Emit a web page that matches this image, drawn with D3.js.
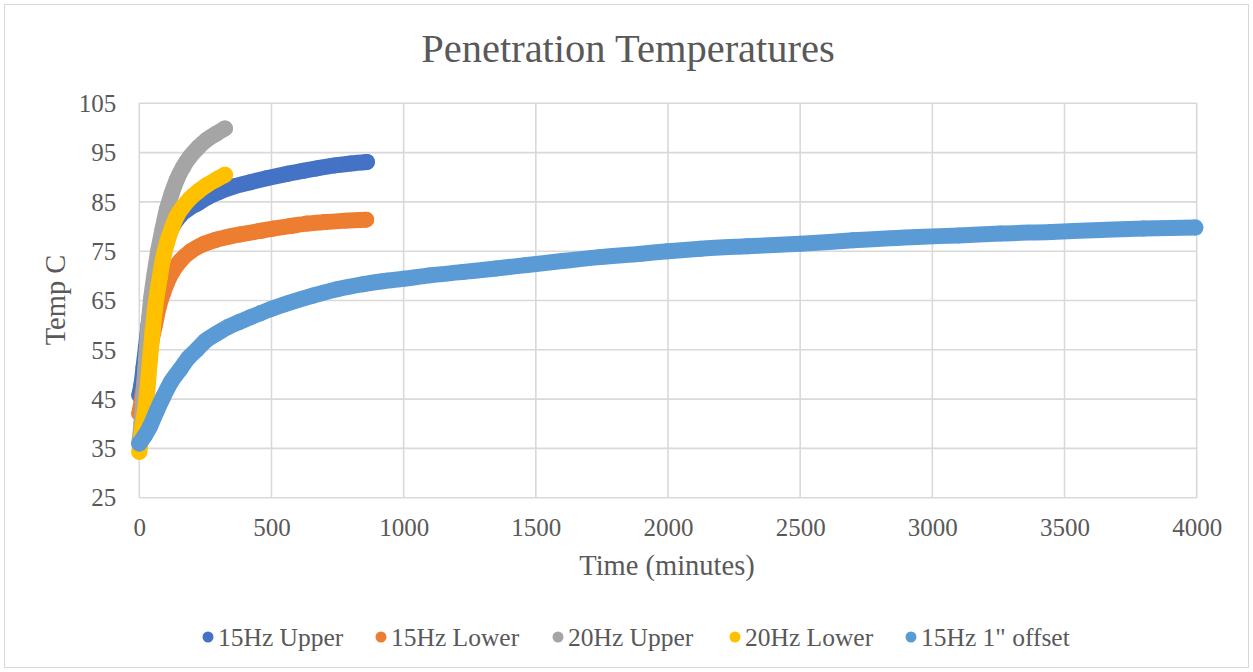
<!DOCTYPE html>
<html>
<head>
<meta charset="utf-8">
<script src="https://cdn.jsdelivr.net/npm/d3@7"></script>
<style>
  html, body { margin: 0; padding: 0; background: #fff; }
  svg { display: block; }
  text { font-family: "Liberation Serif", "DejaVu Serif", serif; fill: #595959; }
</style>
</head>
<body>
<svg id="chart" width="1253" height="672"></svg>
<script>
// Penetration temperature readings: [time in minutes, temperature in °C]
const upper15 = [[0,45.8],[8,48],[16,51.5],[25,55.5],[35,60],[45,64],[55,67.5],[65,70.5],[78,73.5],[92,76],[108,78.3],[125,80],[154,82.2],[185,83.6],[217,84.6],[260,86],[300,87],[356,88.1],[420,89],[482,89.8],[560,90.7],[620,91.3],[671,91.8],[740,92.4],[800,92.8],[861,93.1]];
const lower15 = [[0,42.1],[10,45],[20,48.5],[32,52.5],[45,56.5],[59,60],[75,64],[90,66.5],[104,68.5],[125,70.8],[154,73],[195,75],[242,76.4],[290,77.3],[343,78],[381,78.4],[457,79.1],[507,79.6],[570,80.1],[634,80.6],[700,80.9],[780,81.2],[858,81.4]];
const upper20 = [[0,36],[8,40],[16,46],[25,53],[35,60],[45,65.5],[58,70.5],[72,75.2],[88,79.5],[104,83.4],[122,86.6],[141,89.4],[165,92],[192,94.2],[222,96],[255,97.6],[290,98.8],[324,99.9]];
const lower20 = [[0,34.3],[6,37],[12,39.5],[22,42.8],[30,46.5],[40,52.9],[50,58.5],[59,63.1],[68,66.5],[78,69.8],[90,73.5],[104,76.6],[122,79.5],[141,82],[165,84],[192,85.7],[222,87.1],[255,88.4],[290,89.5],[324,90.5]];
const offset15 = [[0,36],[20,37.5],[40,39.4],[65,42.5],[91,45.5],[120,48.5],[154,51],[185,53.3],[217,55],[250,56.8],[293,58.3],[335,59.6],[381,60.7],[420,61.6],[457,62.4],[495,63.2],[560,64.4],[658,66],[750,67.3],[848,68.3],[920,68.9],[999,69.4],[1100,70.1],[1226,70.8],[1350,71.5],[1466,72.2],[1600,73],[1743,73.8],[1900,74.5],[2000,75],[2122,75.5],[2300,76],[2500,76.5],[2700,77.2],[2942,77.9],[3100,78.2],[3258,78.6],[3450,78.9],[3637,79.3],[3800,79.6],[3995,79.8]];

const seriesNames = ["15Hz Upper", "15Hz Lower", "20Hz Upper", "20Hz Lower", "15Hz 1\" offset"];
const seriesData = [upper15, lower15, upper20, lower20, offset15];
const seriesColors = ["#4472C4", "#ED7D31", "#A5A5A5", "#FFC000", "#5B9BD5"];

const xTicks = [0, 500, 1000, 1500, 2000, 2500, 3000, 3500, 4000];
const yTicks = [25, 35, 45, 55, 65, 75, 85, 95, 105];

const titleText = "Penetration Temperatures";
const xTitle = "Time (minutes)";
const yTitle = "Temp C";

const W = 1253, H = 672;
const plot = { left: 139.3, right: 1196.7, top: 103.3, bottom: 497.7 };

const svg = d3.select("#chart");

// outer chart frame
svg.append("rect")
  .attr("x", 4.5).attr("y", 4.5)
  .attr("width", W - 9).attr("height", H - 9)
  .attr("fill", "#fff").attr("stroke", "#D9D9D9").attr("stroke-width", 1);

const x = d3.scaleLinear().domain([0, 4000]).range([plot.left, plot.right]);
const y = d3.scaleLinear().domain([25, 105]).range([plot.bottom, plot.top]);

// gridlines
const grid = svg.append("g").attr("stroke", "#D9D9D9").attr("stroke-width", 1.6);
grid.selectAll("line.h").data(yTicks).join("line")
  .attr("x1", plot.left).attr("x2", plot.right)
  .attr("y1", d => y(d)).attr("y2", d => y(d));
grid.selectAll("line.v").data(xTicks).join("line")
  .attr("y1", plot.top).attr("y2", plot.bottom)
  .attr("x1", d => x(d)).attr("x2", d => x(d));

// axes (labels only; lines come from the grid)
const xAxis = svg.append("g")
  .attr("transform", `translate(0,${plot.bottom + 21})`)
  .call(d3.axisBottom(x).tickValues(xTicks).tickSize(0).tickFormat(d3.format("d")));
xAxis.select(".domain").remove();
xAxis.selectAll("text").attr("font-size", 25).attr("fill", "#595959")
  .attr("font-family", "Liberation Serif, serif").attr("dy", "0.71em").attr("y", 0);

const yAxis = svg.append("g")
  .attr("transform", `translate(${plot.left - 23},0)`)
  .call(d3.axisLeft(y).tickValues(yTicks).tickSize(0).tickFormat(d3.format("d")));
yAxis.select(".domain").remove();
yAxis.selectAll("text").attr("font-size", 25).attr("fill", "#595959")
  .attr("font-family", "Liberation Serif, serif").attr("x", 0).attr("dy", "0.33em");

// series: thick marker trail drawn as a line plus circles at each reading
const line = d3.line().x(d => x(d[0])).y(d => y(d[1])).curve(d3.curveMonotoneX);
seriesData.forEach((data, i) => {
  const g = svg.append("g");
  g.append("path").datum(data)
    .attr("d", line)
    .attr("fill", "none")
    .attr("stroke", seriesColors[i])
    .attr("stroke-width", 16)
    .attr("stroke-linecap", "round")
    .attr("stroke-linejoin", "round");
  g.selectAll("circle").data(data).join("circle")
    .attr("cx", d => x(d[0])).attr("cy", d => y(d[1]))
    .attr("r", 8).attr("fill", seriesColors[i]);
});

// titles
svg.append("text").attr("x", 628).attr("y", 61.5).attr("text-anchor", "middle")
  .attr("font-size", 40.5).text(titleText);
svg.append("text").attr("x", 667).attr("y", 575).attr("text-anchor", "middle")
  .attr("font-size", 28.5).text(xTitle);
svg.append("text").attr("transform", "translate(65,300) rotate(-90)").attr("text-anchor", "middle")
  .attr("font-size", 28.5).text(yTitle);

// legend
const legendX = [208, 381, 558, 735, 911];
const legend = svg.append("g");
seriesNames.forEach((name, i) => {
  legend.append("circle").attr("cx", legendX[i]).attr("cy", 637).attr("r", 5.5)
    .attr("fill", seriesColors[i]);
  legend.append("text").attr("x", legendX[i] + 10).attr("y", 645.5)
    .attr("font-size", 25.5).text(name);
});
</script>
</body>
</html>
